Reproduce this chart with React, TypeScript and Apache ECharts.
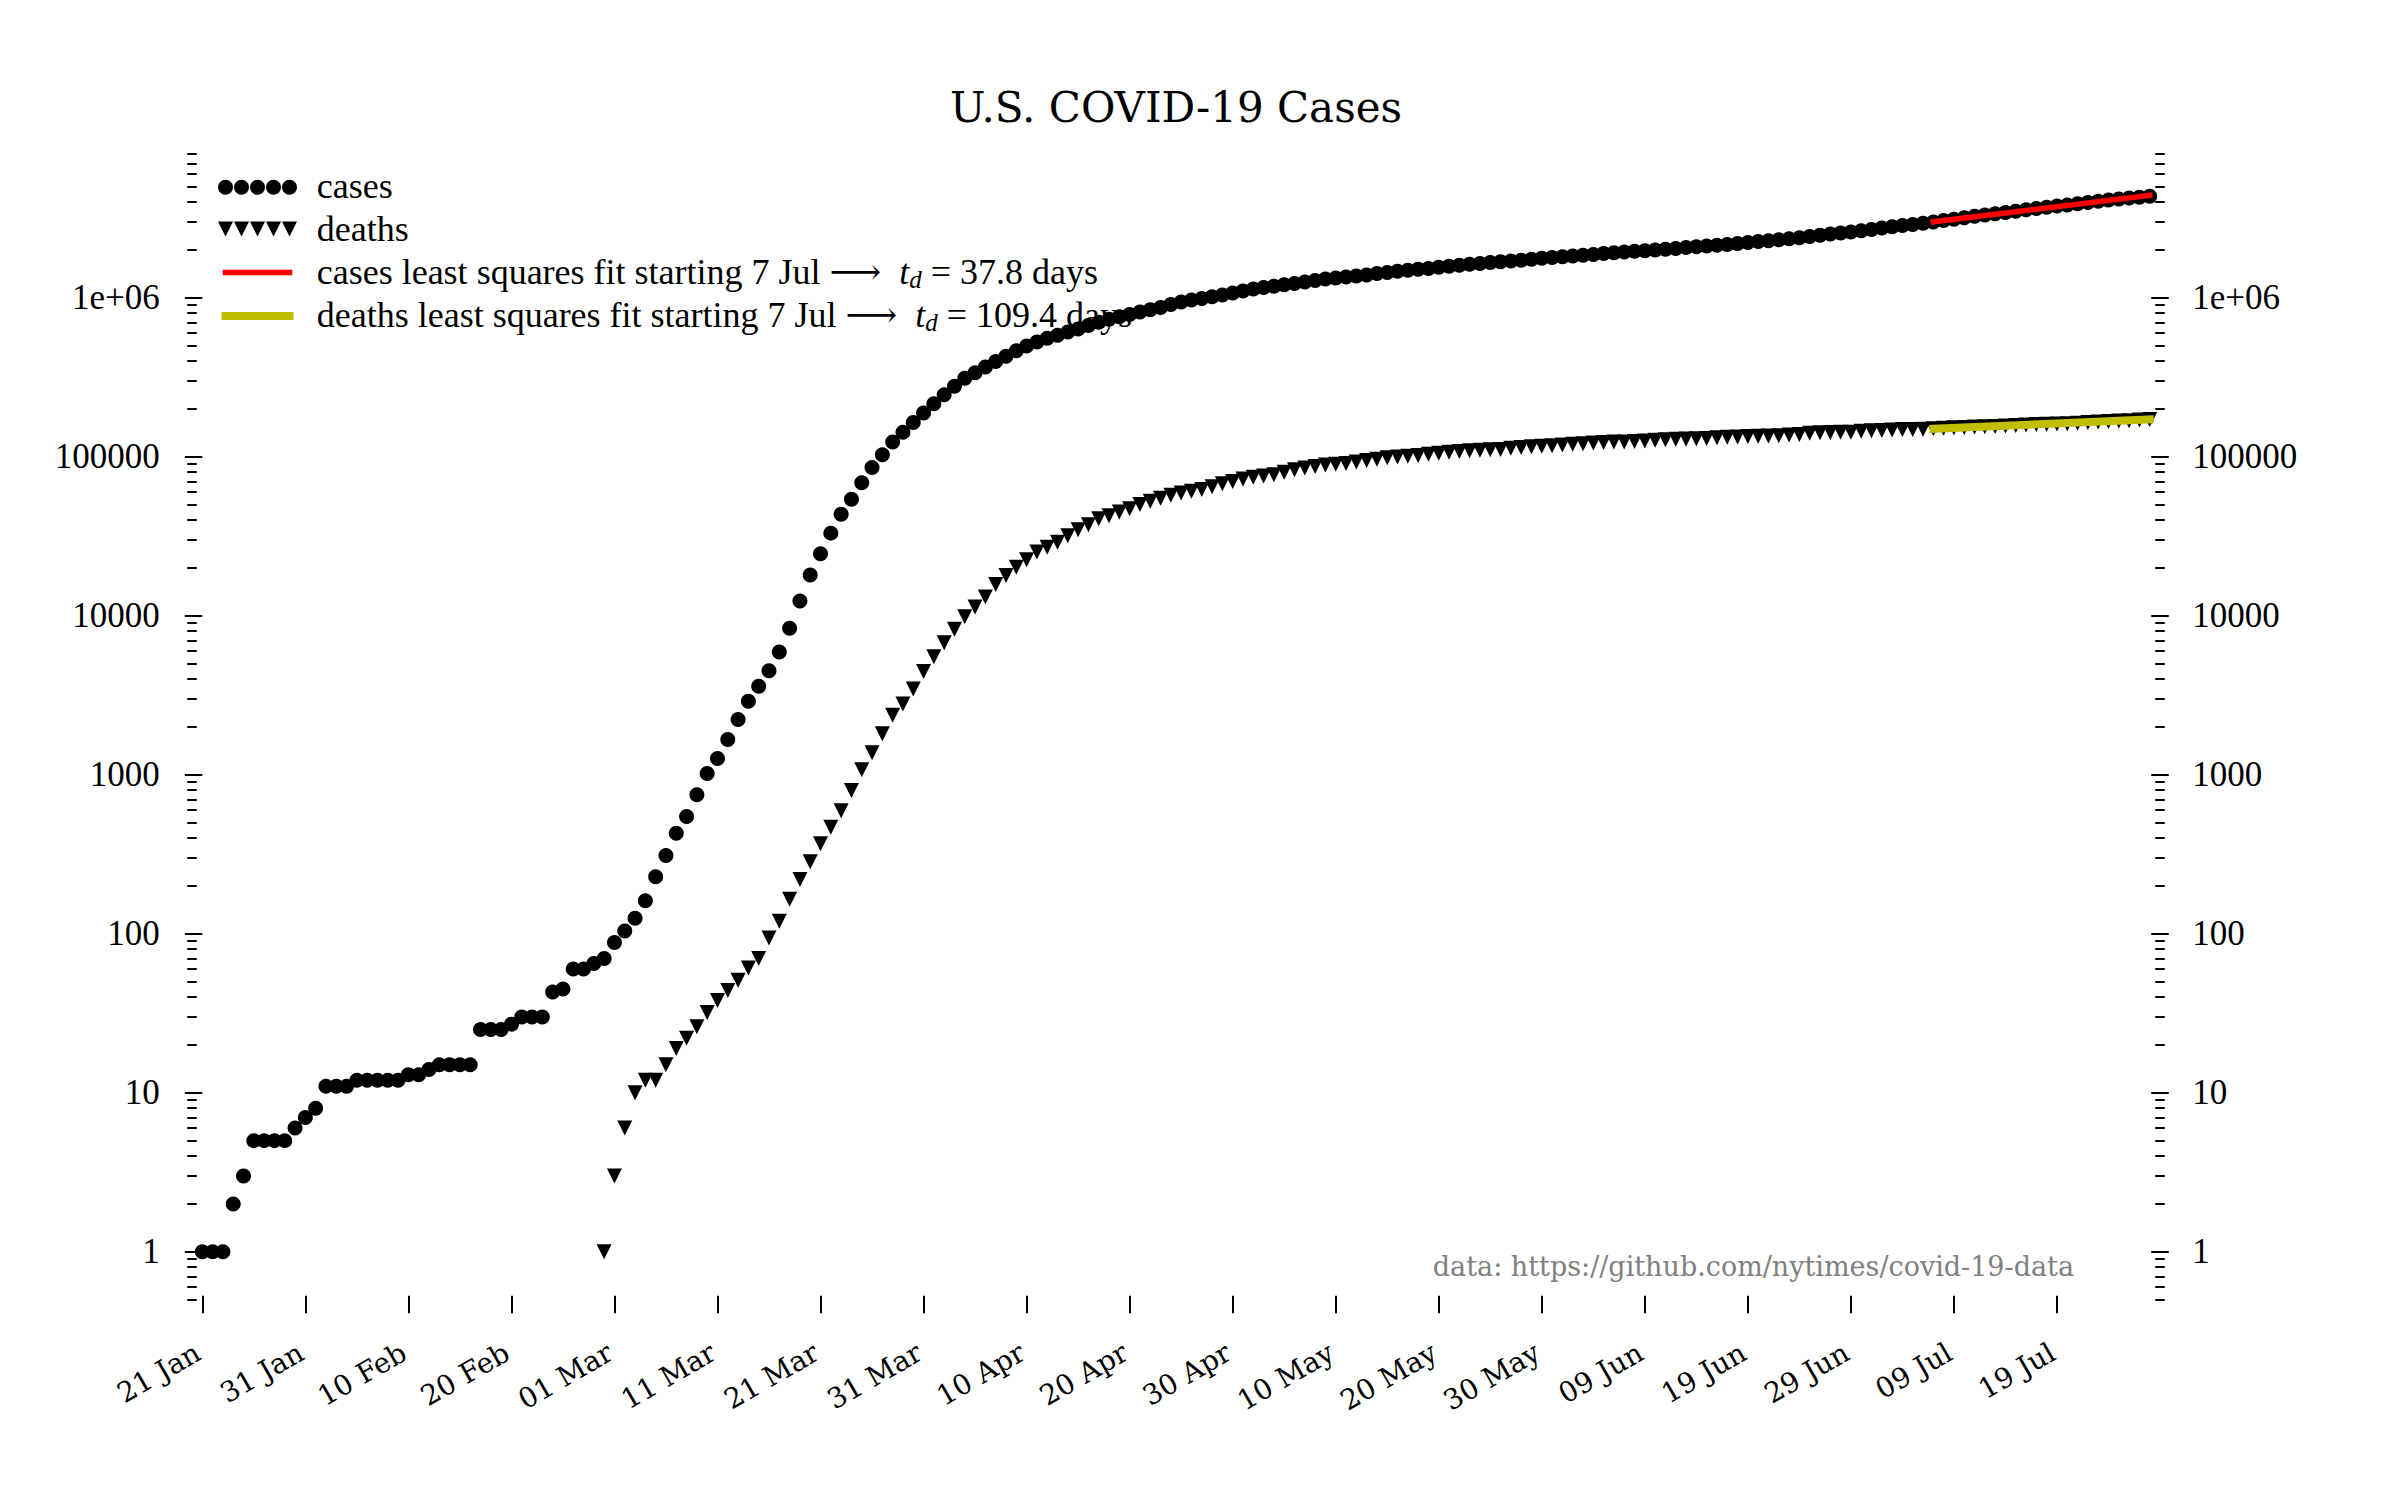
import React, { useEffect, useRef } from "react";
import * as echarts from "echarts";

// Day 0 = 2020-01-21
const firstDate = "2020-01-21";

// cumulative U.S. cases, one value per day from 21 Jan to 28 Jul
const cases = [
  1, 1, 1, 2, 3, 5, 5, 5, 5, 6, 7,
  8, 11, 11, 11, 12, 12, 12, 12, 12, 13, 13, 14, 15, 15, 15, 15, 25, 25, 25, 27, 30, 30, 30, 43, 45, 60, 60, 65, 70,
  88, 104, 125, 161, 228, 311, 428, 547, 748, 1018,
  1263, 1668, 2224, 2898, 3600, 4507, 5906, 8350, 12393, 18012,
  24528, 33073, 43505, 53938, 68572, 85570, 102900, 123966, 142486, 163955, 188530,
  215238, 244879, 277205, 311357, 336802, 366317, 397121, 428654, 463347, 496535,
  526776, 555313, 580619, 607670, 636350, 667592, 699706, 732197, 758809, 784326,
  811865, 840351, 869170, 905358, 938154, 965785, 988197, 1012583, 1039909, 1069424,
  1103461, 1132539, 1158041, 1180634, 1204351, 1229331, 1257023, 1283929, 1309541, 1329799,
  1347881, 1369376, 1390406, 1417774, 1442824, 1467820, 1486757, 1508308, 1528568, 1551853,
  1577287, 1601434, 1622990, 1643499, 1662302, 1681212, 1699933, 1721750, 1747087, 1770165, 1790191,
  1811277, 1831821, 1851520, 1872660, 1897380, 1920061, 1937800, 1956421, 1973797, 1994283,
  2017148, 2042740, 2067519, 2093335, 2112911, 2137731, 2163290, 2190823, 2222578, 2255326,
  2281290, 2312302, 2347022, 2384256, 2423465, 2468311, 2512148, 2552294, 2592847, 2636414,
  2686480, 2742049, 2797539, 2843586, 2888635, 2937841, 2998240, 3059229, 3118007, 3186573,
  3247782, 3308920, 3367948, 3431754, 3499304, 3574211, 3645254, 3709887, 3773316, 3835130,
  3899237, 3971124, 4040718, 4114064, 4179138, 4234140, 4290337, 4351997,
];

// cumulative U.S. deaths, one value per day from 29 Feb (day 39) to 28 Jul
const deathsStartDay = 39;
const deaths = [
  1,
  3, 6, 10, 12, 12, 15, 19, 22, 26, 32,
  38, 44, 51, 61, 70, 94, 120, 165, 219, 284,
  368, 467, 593, 797, 1076, 1377, 1811, 2364, 2788, 3459, 4460,
  5530, 6760, 8220, 9850, 11360, 13120, 15700, 17900, 20200, 22500,
  25200, 27000, 29000, 31800, 34700, 37300, 40700, 42500, 44871, 47094,
  50104, 52442, 54842, 57183, 59219, 60543, 62164, 64820, 67623, 69951,
  72401, 74311, 75605, 77051, 79782, 82733, 85029, 86852, 88670, 89586,
  90713, 92599, 94629, 96571, 98400, 99769, 100816, 101836, 103491, 105236,
  106601, 107989, 109196, 109891, 110475, 111211, 112857, 114193, 115515, 116546, 117242,
  118611, 119774, 120876, 121948, 122774, 123564, 123943, 124715, 125735, 126784,
  127752, 128580, 129377, 129695, 130159, 131628, 132463, 133236, 134010, 134693,
  135025, 135465, 137003, 137887, 140716, 141400, 142014, 142363, 142743, 144758,
  145582, 146372, 147105, 148061, 148385, 148817, 149900, 150894, 151945, 152917,
  153787, 154333, 154833, 155878, 156978, 158062, 159175, 160199, 160781, 161335,
  162619, 163925, 165238, 166578, 167879, 168541, 169930, 171494,
];

// least squares fits starting 7 Jul (day 168) to 28 Jul (day 189)
const fitDays = [168, 189];
const casesFit = [3000000, 4409000];
const deathsFit = [150000, 171360];

const xTickDays = [0, 10, 20, 30, 40, 50, 60, 70, 80, 90, 100, 110, 120, 130, 140, 150, 160, 170, 180];
const xTickLabels = [
  "21 Jan", "31 Jan", "10 Feb", "20 Feb", "01 Mar", "11 Mar", "21 Mar", "31 Mar", "10 Apr", "20 Apr",
  "30 Apr", "10 May", "20 May", "30 May", "09 Jun", "19 Jun", "29 Jun", "09 Jul", "19 Jul",
];

const yMajorTicks = [1, 10, 100, 1000, 10000, 100000, 1000000];
const yMajorLabels = ["1", "10", "100", "1000", "10000", "100000", "1e+06"];
const yMinorTicks = [
  0.5, 0.6, 0.7, 0.8, 0.9,
  2, 3, 4, 5, 6, 7, 8, 9,
  20, 30, 40, 50, 60, 70, 80, 90,
  200, 300, 400, 500, 600, 700, 800, 900,
  2000, 3000, 4000, 5000, 6000, 7000, 8000, 9000,
  20000, 30000, 40000, 50000, 60000, 70000, 80000, 90000,
  200000, 300000, 400000, 500000, 600000, 700000, 800000, 900000,
  2000000, 3000000, 4000000, 5000000, 6000000, 7000000, 8000000,
];

const titleText = "U.S. COVID-19 Cases";
const sourceText = "data: https://github.com/nytimes/covid-19-data";
const legendCases = "cases";
const legendDeaths = "deaths";
const legendCasesFit = "cases least squares fit starting 7 Jul ⟶  {it|t}{sub|d} = 37.8 days";
const legendDeathsFit = "deaths least squares fit starting 7 Jul ⟶  {it|t}{sub|d} = 109.4 days";

const X_MIN = -1;
const X_MAX = 190;
const Y_MIN = 0.466;
const Y_MAX = 8.74e6;

const SERIF_CM = "'Liberation Serif', 'DejaVu Serif', serif";
const SERIF_DV = "'DejaVu Serif', serif";

function yAxis(position: "left" | "right", major: boolean) {
  return {
    type: "log",
    logBase: 10,
    min: Y_MIN,
    max: Y_MAX,
    position,
    offset: major ? -8.75 : -4.75,
    axisLine: { show: false },
    splitLine: { show: false },
    minorTick: { show: false },
    minorSplitLine: { show: false },
    axisTick: {
      show: true,
      inside: false,
      length: major ? 17.5 : 9.5,
      customValues: major ? yMajorTicks : yMinorTicks,
      lineStyle: { color: "#000", width: 2 },
    },
    axisLabel: major
      ? {
          show: true,
          customValues: yMajorTicks,
          formatter: (v: number) => yMajorLabels[Math.round(Math.log10(v))],
          margin: 41,
          fontFamily: SERIF_CM,
          fontSize: 35,
          color: "#000",
        }
      : { show: false },
  };
}

function legendGraphics() {
  const els: any[] = [];
  const x0 = 225.5;
  const step = 16;
  for (let i = 0; i < 5; i++) {
    els.push({
      type: "circle",
      silent: true,
      shape: { cx: x0 + i * step, cy: 187.3, r: 7.5 },
      style: { fill: "#000" },
    });
    const cx = x0 + i * step;
    els.push({
      type: "polygon",
      silent: true,
      shape: { points: [[cx - 7.5, 221.5], [cx + 7.5, 221.5], [cx, 236.5]] },
      style: { fill: "#000" },
    });
  }
  els.push({
    type: "line",
    silent: true,
    shape: { x1: x0, y1: 272.5, x2: x0 + 4 * step, y2: 272.5 },
    style: { stroke: "#ff0000", lineWidth: 5.5, lineCap: "square" },
  });
  els.push({
    type: "line",
    silent: true,
    shape: { x1: x0, y1: 316, x2: x0 + 4 * step, y2: 316 },
    style: { stroke: "#bfbf00", lineWidth: 8, lineCap: "square" },
  });
  const rich = {
    it: { fontFamily: SERIF_CM, fontSize: 36, fontStyle: "italic", lineHeight: 40, fill: "#000" },
    sub: { fontFamily: SERIF_CM, fontSize: 25, fontStyle: "italic", lineHeight: 18, verticalAlign: "bottom", fill: "#000" },
  };
  const rows = [
    { t: legendCases, y: 185.5 },
    { t: legendDeaths, y: 228.5 },
    { t: legendCasesFit, y: 271.5 },
    { t: legendDeathsFit, y: 314.5 },
  ];
  rows.forEach((r) => {
    els.push({
      type: "text",
      silent: true,
      x: 316.7,
      y: r.y,
      style: {
        text: r.t,
        fontFamily: SERIF_CM,
        fontSize: 36,
        lineHeight: 40,
        fill: "#000",
        align: "left",
        verticalAlign: "middle",
        rich,
      },
    });
  });
  return els;
}

export default function App() {
  const ref = useRef<HTMLDivElement>(null);

  useEffect(() => {
    if (!ref.current) return;
    const chart = echarts.init(ref.current, undefined, { renderer: "svg" });

    const casesData = cases.map((v, i) => [i, v]);
    const deathsData = deaths.map((v, i) => [i + deathsStartDay, v]);
    const casesFitData = fitDays.map((d, i) => [d, casesFit[i]]);
    const deathsFitData = fitDays.map((d, i) => [d, deathsFit[i]]);

    chart.setOption({
      animation: false,
      backgroundColor: "#ffffff",
      grid: {
        left: 192,
        right: 240,
        top: 148,
        bottom: 195.5,
        containLabel: false,
        outerBoundsMode: "none",
      },
      xAxis: {
        type: "value",
        min: X_MIN,
        max: X_MAX,
        offset: -8.8,
        axisLine: { show: false },
        splitLine: { show: false },
        axisTick: {
          show: true,
          inside: false,
          length: 17.6,
          customValues: xTickDays,
          lineStyle: { color: "#000", width: 2 },
        },
        axisLabel: {
          show: true,
          customValues: xTickDays,
          formatter: (v: number) => xTickLabels[xTickDays.indexOf(Math.round(v))],
          rotate: 30,
          margin: 52,
          padding: [0, 5, 0, 0],
          fontFamily: SERIF_DV,
          fontSize: 28,
          color: "#000",
        },
      },
      yAxis: [yAxis("left", true), yAxis("left", false), yAxis("right", true), yAxis("right", false)],
      graphic: {
        elements: [
          {
            type: "text",
            silent: true,
            x: 1176,
            y: 107,
            style: {
              text: titleText,
              fontFamily: SERIF_DV,
              fontSize: 42,
              fill: "#000",
              align: "center",
              verticalAlign: "middle",
            },
          },
          {
            type: "text",
            silent: true,
            x: 2074,
            y: 1266,
            style: {
              text: sourceText,
              fontFamily: SERIF_DV,
              fontSize: 27,
              fill: "#808080",
              align: "right",
              verticalAlign: "middle",
            },
          },
          ...legendGraphics(),
        ],
      },
      series: [
        {
          type: "scatter",
          name: "cases",
          data: casesData,
          symbol: "circle",
          symbolSize: 15,
          itemStyle: { color: "#000", opacity: 1 },
          silent: true,
          z: 2,
        },
        {
          type: "scatter",
          name: "deaths",
          data: deathsData,
          symbol: "triangle",
          symbolRotate: 180,
          symbolSize: 15,
          itemStyle: { color: "#000", opacity: 1 },
          silent: true,
          z: 3,
        },
        {
          type: "line",
          name: "cases fit",
          data: casesFitData,
          symbol: "none",
          showSymbol: false,
          lineStyle: { color: "#ff0000", width: 5.5, cap: "square", opacity: 1 },
          silent: true,
          z: 4,
        },
        {
          type: "line",
          name: "deaths fit",
          data: deathsFitData,
          symbol: "none",
          showSymbol: false,
          lineStyle: { color: "#bfbf00", width: 8, cap: "square", opacity: 1 },
          silent: true,
          z: 5,
        },
      ],
    });

    return () => {
      chart.dispose();
    };
  }, []);

  return (
    <div
      ref={ref}
      data-first-date={firstDate}
      style={{ position: "absolute", left: 0, top: 0, width: 2400, height: 1500, background: "#fff" }}
    />
  );
}
